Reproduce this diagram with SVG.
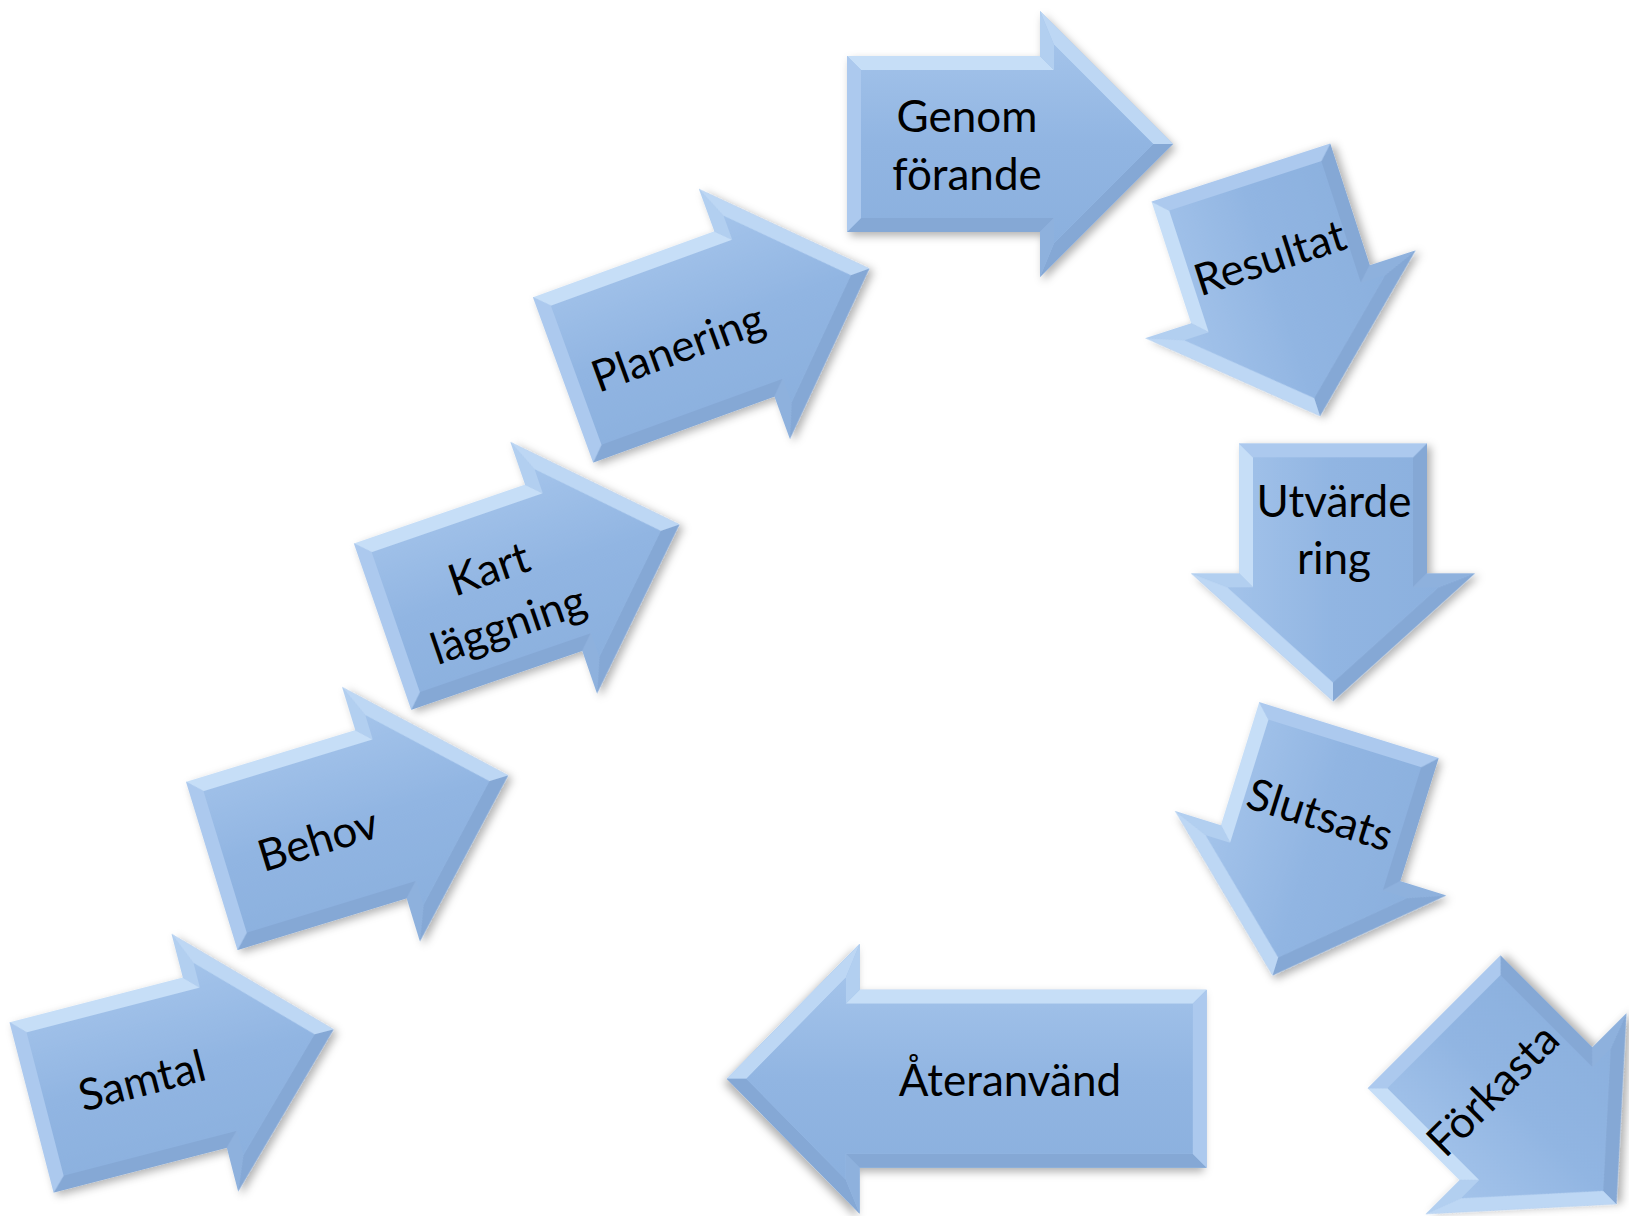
<svg xmlns="http://www.w3.org/2000/svg" width="1629" height="1216" viewBox="0 0 1629 1216">
<defs>
<linearGradient id="bodyGrad" x1="0" y1="0" x2="0" y2="1">
<stop offset="0" stop-color="#a3c3ea"/>
<stop offset="0.5" stop-color="#91b5e2"/>
<stop offset="1" stop-color="#8bb0de"/>
</linearGradient>
<filter id="shadow" x="-20%" y="-20%" width="140%" height="140%">
<feDropShadow dx="3" dy="4" stdDeviation="4" flood-color="#000" flood-opacity="0.3"/>
</filter>
</defs>
<style>
.outer{fill:#9cbde7;}
.inner{fill:url(#bodyGrad);}
.ft{fill:#c6def7;}
.fn{fill:#b2cff0;}
.fh{fill:#bdd7f4;}
.fd{fill:#85a8d5;}
.fb{fill:#8eb1dd;}
.fl{fill:#acc9ee;}
.lbl{font-family:Lato,"Noto Sans","Liberation Sans",sans-serif;font-size:44px;fill:#000;text-anchor:middle;}
</style>

<g id="connectors"></g>

<g id="samtal">
<g transform="translate(31.5,1107.5) rotate(-14.5)" filter="url(#shadow)">
<polygon class="outer" points="0,-88 179,-88 179,-133 312,0 179,133 179,88 0,88"/>
<polygon class="ft" points="0,-88 179,-88 193,-74 14,-74"/>
<polygon class="fn" points="179,-88 179,-133 193,-99.2 193,-74"/>
<polygon class="fh" points="179,-133 312,0 292.2,0 193,-99.2"/>
<polygon class="fd" points="312,0 179,133 193,99.2 292.2,0"/>
<polygon class="fb" points="179,133 179,88 193,74 193,99.2"/>
<polygon class="fd" points="179,88 0,88 14,74 193,74"/>
<polygon class="fl" points="0,88 0,-88 14,-74 14,74"/>
<polygon class="inner" points="14,-74 193,-74 193,-99.2 292.2,0 193,99.2 193,74 14,74"/>
</g>
<text class="lbl" transform="translate(142,1081) rotate(-14.5)" y="15">Samtal</text>
</g>

<g id="behov">
<g transform="translate(211.7,866) rotate(-17)" filter="url(#shadow)">
<polygon class="outer" points="0,-88 177,-88 177,-133 310,0 177,133 177,88 0,88"/>
<polygon class="ft" points="0,-88 177,-88 191,-74 14,-74"/>
<polygon class="fn" points="177,-88 177,-133 191,-99.2 191,-74"/>
<polygon class="fh" points="177,-133 310,0 290.2,0 191,-99.2"/>
<polygon class="fd" points="310,0 177,133 191,99.2 290.2,0"/>
<polygon class="fb" points="177,133 177,88 191,74 191,99.2"/>
<polygon class="fd" points="177,88 0,88 14,74 191,74"/>
<polygon class="fl" points="0,88 0,-88 14,-74 14,74"/>
<polygon class="inner" points="14,-74 191,-74 191,-99.2 290.2,0 191,99.2 191,74 14,74"/>
</g>
<text class="lbl" transform="translate(318,840) rotate(-17)" y="15">Behov</text>
</g>

<g id="kartlaggning">
<g transform="translate(382.5,626.7) rotate(-19)" filter="url(#shadow)">
<polygon class="outer" points="0,-88 181,-88 181,-133 314,0 181,133 181,88 0,88"/>
<polygon class="ft" points="0,-88 181,-88 195,-74 14,-74"/>
<polygon class="fn" points="181,-88 181,-133 195,-99.2 195,-74"/>
<polygon class="fh" points="181,-133 314,0 294.2,0 195,-99.2"/>
<polygon class="fd" points="314,0 181,133 195,99.2 294.2,0"/>
<polygon class="fb" points="181,133 181,88 195,74 195,99.2"/>
<polygon class="fd" points="181,88 0,88 14,74 195,74"/>
<polygon class="fl" points="0,88 0,-88 14,-74 14,74"/>
<polygon class="inner" points="14,-74 195,-74 195,-99.2 294.2,0 195,99.2 195,74 14,74"/>
</g>
<text class="lbl" transform="translate(498.5,596.5) rotate(-19)"><tspan x="0" y="-14">Kart</tspan><tspan x="0" y="45">läggning</tspan></text>
</g>

<g id="planering">
<g transform="translate(563,380) rotate(-20)" filter="url(#shadow)">
<polygon class="outer" points="0,-88 193,-88 193,-133 326,0 193,133 193,88 0,88"/>
<polygon class="ft" points="0,-88 193,-88 207,-74 14,-74"/>
<polygon class="fn" points="193,-88 193,-133 207,-99.2 207,-74"/>
<polygon class="fh" points="193,-133 326,0 306.2,0 207,-99.2"/>
<polygon class="fd" points="326,0 193,133 207,99.2 306.2,0"/>
<polygon class="fb" points="193,133 193,88 207,74 207,99.2"/>
<polygon class="fd" points="193,88 0,88 14,74 207,74"/>
<polygon class="fl" points="0,88 0,-88 14,-74 14,74"/>
<polygon class="inner" points="14,-74 207,-74 207,-99.2 306.2,0 207,99.2 207,74 14,74"/>
</g>
<text class="lbl" transform="translate(678,348) rotate(-20)" y="15">Planering</text>
</g>

<g id="genomforande">
<g transform="translate(847,144)" filter="url(#shadow)">
<polygon class="outer" points="0,-88 193,-88 193,-133 326,0 193,133 193,88 0,88"/>
<polygon class="ft" points="0,-88 193,-88 207,-74 14,-74"/>
<polygon class="fn" points="193,-88 193,-133 207,-99.2 207,-74"/>
<polygon class="fh" points="193,-133 326,0 306.2,0 207,-99.2"/>
<polygon class="fd" points="326,0 193,133 207,99.2 306.2,0"/>
<polygon class="fb" points="193,133 193,88 207,74 207,99.2"/>
<polygon class="fd" points="193,88 0,88 14,74 207,74"/>
<polygon class="fl" points="0,88 0,-88 14,-74 14,74"/>
<polygon class="inner" points="14,-74 207,-74 207,-99.2 306.2,0 207,99.2 207,74 14,74"/>
</g>
<text class="lbl"><tspan x="967" y="132">Genom</tspan><tspan x="967" y="190">förande</tspan></text>
</g>

<g id="resultat">
<g transform="translate(1240.9,172.5) rotate(72) scale(1,-1)" filter="url(#shadow)">
<polygon class="outer" points="0,-94 128,-94 128,-142 256,0 128,142 128,94 0,94"/>
<polygon class="ft" points="0,-94 128,-94 142,-80 14,-80"/>
<polygon class="fn" points="128,-94 128,-142 142,-105.6 142,-80"/>
<polygon class="fh" points="128,-142 256,0 237.1,0 142,-105.6"/>
<polygon class="fd" points="256,0 128,142 142,105.6 237.1,0"/>
<polygon class="fb" points="128,142 128,94 142,80 142,105.6"/>
<polygon class="fd" points="128,94 0,94 14,80 142,80"/>
<polygon class="fl" points="0,94 0,-94 14,-80 14,80"/>
<polygon class="inner" points="14,-80 142,-80 142,-105.6 237.1,0 142,105.6 142,80 14,80"/>
</g>
<text class="lbl" transform="translate(1270,258) rotate(-18)" y="15">Resultat</text>
</g>

<g id="utvardering">
<g transform="translate(1333,443.3) rotate(90) scale(1,-1)" filter="url(#shadow)">
<polygon class="outer" points="0,-94 130,-94 130,-142 258,0 130,142 130,94 0,94"/>
<polygon class="ft" points="0,-94 130,-94 144,-80 14,-80"/>
<polygon class="fn" points="130,-94 130,-142 144,-105.6 144,-80"/>
<polygon class="fh" points="130,-142 258,0 239.1,0 144,-105.6"/>
<polygon class="fd" points="258,0 130,142 144,105.6 239.1,0"/>
<polygon class="fb" points="130,142 130,94 144,80 144,105.6"/>
<polygon class="fd" points="130,94 0,94 14,80 144,80"/>
<polygon class="fl" points="0,94 0,-94 14,-80 14,80"/>
<polygon class="inner" points="14,-80 144,-80 144,-105.6 239.1,0 144,105.6 144,80 14,80"/>
</g>
<text class="lbl"><tspan x="1334" y="517">Utvärde</tspan><tspan x="1334" y="574">ring</tspan></text>
</g>

<g id="slutsats">
<g transform="translate(1349,730) rotate(107.3) scale(1,-1)" filter="url(#shadow)">
<polygon class="outer" points="0,-94 129,-94 129,-142 257,0 129,142 129,94 0,94"/>
<polygon class="ft" points="0,-94 129,-94 143,-80 14,-80"/>
<polygon class="fn" points="129,-94 129,-142 143,-105.6 143,-80"/>
<polygon class="fh" points="129,-142 257,0 238.1,0 143,-105.6"/>
<polygon class="fd" points="257,0 129,142 143,105.6 238.1,0"/>
<polygon class="fb" points="129,142 129,94 143,80 143,105.6"/>
<polygon class="fd" points="129,94 0,94 14,80 143,80"/>
<polygon class="fl" points="0,94 0,-94 14,-80 14,80"/>
<polygon class="inner" points="14,-80 143,-80 143,-105.6 238.1,0 143,105.6 143,80 14,80"/>
</g>
<text class="lbl" transform="translate(1320,815) rotate(17.3)" y="15">Slutsats</text>
</g>

<g id="forkasta">
<g transform="translate(1434,1021.7) rotate(45) scale(1,-1)" filter="url(#shadow)">
<polygon class="outer" points="0,-94 130,-94 130,-142 258,0 130,142 130,94 0,94"/>
<polygon class="ft" points="0,-94 130,-94 144,-80 14,-80"/>
<polygon class="fn" points="130,-94 130,-142 144,-105.6 144,-80"/>
<polygon class="fh" points="130,-142 258,0 239.1,0 144,-105.6"/>
<polygon class="fd" points="258,0 130,142 144,105.6 239.1,0"/>
<polygon class="fb" points="130,142 130,94 144,80 144,105.6"/>
<polygon class="fd" points="130,94 0,94 14,80 144,80"/>
<polygon class="fl" points="0,94 0,-94 14,-80 14,80"/>
<polygon class="inner" points="14,-80 144,-80 144,-105.6 239.1,0 144,105.6 144,80 14,80"/>
</g>
<text class="lbl" transform="translate(1493,1090) rotate(-45)" y="15">Förkasta</text>
</g>

<g id="ateranvand">
<g transform="translate(1206.7,1078.7) scale(-1,1)" filter="url(#shadow)">
<polygon class="outer" points="0,-89 347,-89 347,-135 480,0 347,135 347,89 0,89"/>
<polygon class="ft" points="0,-89 347,-89 361,-75 14,-75"/>
<polygon class="fn" points="347,-89 347,-135 361,-100.9 361,-75"/>
<polygon class="fh" points="347,-135 480,0 460.3,0 361,-100.9"/>
<polygon class="fd" points="480,0 347,135 361,100.9 460.3,0"/>
<polygon class="fb" points="347,135 347,89 361,75 361,100.9"/>
<polygon class="fd" points="347,89 0,89 14,75 361,75"/>
<polygon class="fl" points="0,89 0,-89 14,-75 14,75"/>
<polygon class="inner" points="14,-75 361,-75 361,-100.9 460.3,0 361,100.9 361,75 14,75"/>
</g>
<text class="lbl" x="1010" y="1096">Återanvänd</text>
</g>
</svg>
